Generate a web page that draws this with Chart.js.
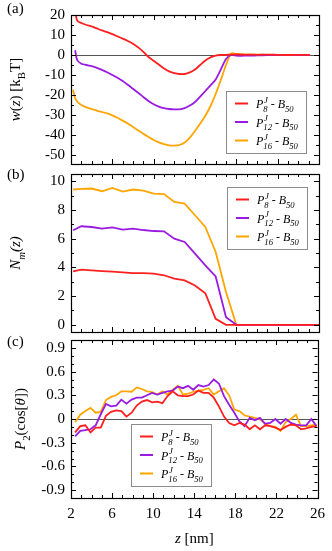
<!DOCTYPE html>
<html>
<head>
<meta charset="utf-8">
<script src="https://cdn.jsdelivr.net/npm/chart.js@4.4.0/dist/chart.umd.min.js"></script>
<style>
html, body { margin: 0; padding: 0; background: #fff; }
#wrap { position: relative; width: 332px; height: 551px; }
canvas { position: absolute; left: 0; top: 0; }
</style>
</head>
<body>
<div id="wrap">
  <canvas id="chartA" width="332" height="551"></canvas>
  <canvas id="chartB" width="332" height="551"></canvas>
  <canvas id="chartC" width="332" height="551"></canvas>
</div>
<script>
// chain lengths of the three systems (P^J_n - B_50)
const chains = ['8', '12', '16'];
const colors = ['#ff1f1f', '#9a1be0', '#ffa500'];

// x ticks shared by all panels
const zTicks = [2, 6, 10, 14, 18, 22, 26];

// (a) potential of mean force w(z) [kBT]
const zA = [2.2, 2.4, 2.6, 3, 3.5, 4, 4.5, 5, 5.5, 6, 6.5, 7, 7.5, 8, 8.5, 9, 9.5, 10, 10.5, 11, 11.5, 12, 12.5,
    13, 13.5, 14, 14.5, 15, 15.5, 16, 16.5, 17, 17.5, 18, 18.5, 19, 19.5, 20, 21, 22, 23, 24, 25.1];
const wP8 = [null, 22, 17.2, 16.0, 15.0, 14.3, 13.3, 12.3, 11.4, 10.4, 9.3, 8.2, 7.0, 5.6, 3.8, 1.6, -1.0, -2.9,
    -4.8, -6.7, -8.2, -9.1, -9.5, -9.5, -8.7, -7.3, -5.0, -2.8, -1.2, -0.3, 0.0, 0.1, 0.2, 0.3, 0.2, 0.1, 0.2, 0.1,
    0.2, 0.1, 0.0, 0.1, 0.0];
const wP12 = [null, 2.4, -2.5, -4.4, -5.0, -5.6, -6.4, -7.4, -8.6, -10.0, -11.4, -13.0, -14.9, -16.9, -18.9, -21.0,
    -23.0, -24.6, -25.8, -26.6, -27.0, -27.2, -27.2, -26.6, -25.3, -23.5, -20.8, -18.0, -15.2, -12.2, -7.2, -2.0,
    0.0, -0.3, -0.4, -0.3, -0.3, -0.2, -0.1, -0.1, 0.0, 0.0, 0.0];
const wP16 = [-17.4, -21.5, -23.3, -25.0, -26.2, -27.0, -27.8, -28.5, -29.2, -30.2, -31.4, -32.8, -34.3, -36.0,
    -37.7, -39.4, -41.0, -42.5, -43.7, -44.6, -45.2, -45.3, -45.0, -43.8, -41.3, -38.0, -34.3, -30.4, -25.5, -19.5,
    -12.5, -5.0, 0.8, 0.6, 0.4, 0.3, 0.2, 0.2, 0.1, 0.1, 0.0, 0.0, 0.0];
const wTicks = [-50, -40, -30, -20, -10, 0, 10, 20];

// (b) number of monomers N_m(z)
const zB = [2.2, 3, 4, 5, 6, 7, 8, 9, 10, 11, 12, 13, 14, 15, 16, 17, 18, 19, 20, 21, 22, 23, 24, 25, 26];
const nP8 = [3.72, 3.84, 3.79, 3.74, 3.70, 3.65, 3.60, 3.60, 3.56, 3.45, 3.21, 3.09, 2.74, 2.20, 0.42, 0, 0, 0,
    0, 0, 0, 0, 0, 0, 0];
const nP12 = [6.58, 6.86, 6.81, 6.70, 6.79, 6.63, 6.70, 6.60, 6.53, 6.51, 6.00, 5.77, 4.95, 4.14, 3.37, 0.53, 0,
    0, 0, 0, 0, 0, 0, 0, 0];
const nP16 = [9.42, 9.46, 9.49, 9.30, 9.53, 9.28, 9.42, 9.35, 9.14, 9.10, 8.56, 8.44, 7.63, 6.81, 5.07, 2.28, 0,
    0, 0, 0, 0, 0, 0, 0, 0];
const nTicks = [0, 2, 4, 6, 8, 10];

// (c) orientational order P2(cos[theta])
const zC = [2.4, 2.9, 3.4, 3.9, 4.4, 4.9, 5.4, 5.9, 6.4, 6.9, 7.4, 7.9, 8.4, 8.9, 9.4, 9.9, 10.4, 10.9, 11.4,
    11.9, 12.4, 12.9, 13.4, 13.9, 14.4, 14.9, 15.4, 15.9, 16.4, 16.9, 17.4, 17.9, 18.4, 18.9, 19.4, 19.9, 20.4,
    20.9, 21.4, 21.9, 22.4, 22.9, 23.4, 23.9, 24.4, 24.9, 25.4, 25.9];
const pP8 = [-0.17, -0.09, -0.08, -0.17, -0.11, -0.11, 0.04, 0.09, 0.11, 0.10, 0.03, 0.08, 0.17, 0.22, 0.24, 0.21,
    0.22, 0.20, 0.29, 0.35, 0.30, 0.29, 0.29, 0.31, 0.36, 0.33, 0.33, 0.27, 0.16, 0.03, -0.05, -0.08, -0.05, -0.07,
    -0.13, -0.08, -0.13, -0.08, -0.09, -0.11, -0.14, -0.10, -0.07, -0.08, -0.13, -0.12, -0.10, -0.09];
const pP12 = [-0.22, -0.15, -0.14, -0.13, -0.08, 0.06, 0.19, 0.16, 0.17, 0.245, 0.195, 0.245, 0.27, 0.27, 0.30,
    0.33, 0.31, 0.33, 0.35, 0.36, 0.41, 0.39, 0.42, 0.37, 0.43, 0.41, 0.43, 0.50, 0.45, 0.29, 0.18, 0.08, -0.03,
    -0.09, 0.015, -0.015, 0.015, -0.06, -0.05, 0.0, -0.06, 0.0, -0.05, -0.07, -0.08, -0.08, 0.0, -0.09];
const pP16 = [-0.04, 0.055, 0.10, 0.14, 0.08, 0.09, 0.24, 0.28, 0.30, 0.35, 0.35, 0.345, 0.40, 0.38, 0.35, 0.34,
    0.31, 0.35, 0.31, 0.37, 0.42, 0.31, 0.32, 0.345, 0.36, 0.37, 0.39, 0.31, 0.35, 0.39, 0.30, 0.12, 0.10, 0.045,
    0.03, 0.015, -0.005, -0.06, -0.09, -0.10, -0.15, -0.04, 0.0, 0.055, -0.09, -0.09, -0.08, -0.07];
const pTicks = [-0.9, -0.6, -0.3, 0, 0.3, 0.6, 0.9];

const SERIF = '"Liberation Serif", "DejaVu Serif", serif';

function fontOf(s, size) {
    return (s.it ? 'italic ' : '') + (size * (s.sc || 1)) + 'px ' + SERIF;
}

// draw text made of pieces (italic, sub/superscript), left or centred at x
function drawRich(ctx, segs, x, y, size, center) {
    ctx.textAlign = 'left';
    ctx.textBaseline = 'alphabetic';
    let w = 0;
    segs.forEach(s => { ctx.font = fontOf(s, size); if (!s.keep) w += ctx.measureText(s.t).width + (s.dx || 0) * size; });
    let cx = center ? x - w / 2 : x;
    segs.forEach(s => {
        ctx.font = fontOf(s, size);
        ctx.fillText(s.t, cx + (s.dx || 0) * size, y + (s.dy || 0) * size);
        if (!s.keep) cx += ctx.measureText(s.t).width + (s.dx || 0) * size;
    });
}

function legendLabel(n) {
    return [
        { t: 'P', it: 1 },
        { t: 'J', it: 1, sc: 0.72, dy: -0.42, dx: 0.06, keep: 1 },
        { t: n, it: 1, sc: 0.72, dy: 0.3 },
        { t: ' - ' },
        { t: 'B', it: 1 },
        { t: '50', it: 1, sc: 0.72, dy: 0.3 }
    ];
}

function minorTicks(min, max, step) {
    const out = [];
    for (let v = Math.ceil(min / step - 1e-9) * step; v <= max + 1e-9; v += step) out.push(Math.round(v * 1000) / 1000);
    return out;
}

const deco = {
    id: 'deco',
    beforeDatasetsDraw(chart, args, o) {
        const { ctx, chartArea: a, scales: { y } } = chart;
        if (!o.zero) return;
        const py = Math.round(y.getPixelForValue(0)) + 0.5;
        ctx.save();
        ctx.strokeStyle = '#555';
        ctx.lineWidth = 1;
        ctx.beginPath();
        ctx.moveTo(a.left, py);
        ctx.lineTo(a.right, py);
        ctx.stroke();
        ctx.restore();
    },
    afterDraw(chart, args, o) {
        const { ctx, chartArea: a, scales: { x, y } } = chart;
        ctx.save();
        ctx.strokeStyle = '#000';
        ctx.lineWidth = 1;
        ctx.beginPath();
        minorTicks(2, 26, 1).forEach(v => {
            const px = Math.round(x.getPixelForValue(v)) + 0.5;
            const len = zTicks.includes(v) ? 5 : 3;
            ctx.moveTo(px, a.bottom); ctx.lineTo(px, a.bottom - len);
            ctx.moveTo(px, a.top); ctx.lineTo(px, a.top + len);
        });
        minorTicks(y.min, y.max, o.yMinor).forEach(v => {
            const py = Math.round(y.getPixelForValue(v)) + 0.5;
            const len = o.yMajor.some(m => Math.abs(m - v) < 1e-6) ? 5 : 3;
            ctx.moveTo(a.left, py); ctx.lineTo(a.left + len, py);
            ctx.moveTo(a.right, py); ctx.lineTo(a.right - len, py);
        });
        ctx.stroke();
        ctx.lineWidth = 1.2;
        ctx.strokeRect(Math.round(a.left) + 0.5, Math.round(a.top) + 0.5, Math.round(a.right - a.left), Math.round(a.bottom - a.top));

        // legend box
        const L = o.legend;
        ctx.fillStyle = '#fff';
        ctx.fillRect(L.x, L.y, 80, 62);
        ctx.strokeStyle = '#8c8c8c';
        ctx.lineWidth = 1;
        ctx.strokeRect(L.x + 0.5, L.y + 0.5, 80, 62);
        chains.forEach((n, i) => {
            const ry = L.y + 12.5 + i * 18.5;
            ctx.strokeStyle = colors[i];
            ctx.lineWidth = 2;
            ctx.beginPath();
            ctx.moveTo(L.x + 9, ry); ctx.lineTo(L.x + 22, ry);
            ctx.stroke();
            ctx.fillStyle = '#000';
            drawRich(ctx, legendLabel(n), L.x + 30, ry + 4.5, 12, false);
        });

        // panel letter and axis titles
        ctx.fillStyle = '#000';
        ctx.font = '15px ' + SERIF;
        ctx.textAlign = 'left';
        ctx.textBaseline = 'alphabetic';
        ctx.fillText(o.letter, 7, o.letterY);
        ctx.save();
        ctx.translate(o.labelX, (a.top + a.bottom) / 2);
        ctx.rotate(-Math.PI / 2);
        drawRich(ctx, o.label, 0, 0, 15, true);
        ctx.restore();
        if (o.xTitle) drawRich(ctx, [{ t: 'z', it: 1 }, { t: ' [nm]' }], (a.left + a.right) / 2, 543, 15, true);
        ctx.restore();
    }
};

function panel(id, xs, series, yMin, yMax, yTicks, cfg) {
    return new Chart(document.getElementById(id), {
        type: 'line',
        data: {
            datasets: series.map((vals, i) => ({
                data: xs.map((x, k) => ({ x: x, y: vals[k] })),
                borderColor: colors[i],
                borderWidth: 1.8,
                pointRadius: 0,
                tension: cfg.tension || 0,
                fill: false
            }))
        },
        options: {
            responsive: false,
            animation: false,
            events: [],
            layout: { padding: { left: 0, right: 13, top: cfg.top, bottom: cfg.bottom } },
            plugins: {
                legend: { display: false },
                tooltip: { enabled: false },
                deco: cfg.deco
            },
            scales: {
                x: {
                    type: 'linear', min: 2, max: 26, display: !!cfg.showX,
                    grid: { display: false, drawTicks: false }, border: { display: false },
                    afterBuildTicks: s => { s.ticks = zTicks.map(v => ({ value: v })); },
                    afterFit: s => { if (cfg.showX) s.height = 53; },
                    ticks: { font: { family: SERIF, size: 15 }, color: '#000', padding: 7, maxRotation: 0, autoSkip: false }
                },
                y: {
                    type: 'linear', min: yMin, max: yMax,
                    grid: { display: false, drawTicks: false }, border: { display: false },
                    afterBuildTicks: s => { s.ticks = yTicks.map(v => ({ value: v })); },
                    afterFit: s => { s.width = 71; },
                    ticks: { font: { family: SERIF, size: 15 }, color: '#000', padding: 6, autoSkip: false, callback: cfg.fmt || (v => v) }
                }
            }
        },
        plugins: [deco]
    });
}

panel('chartA', zA, [wP8, wP12, wP16], -54.5, 20, wTicks, {
    top: 7, bottom: 387, tension: 0.25,
    deco: {
        zero: true, yMinor: 5, yMajor: wTicks, letter: '(a)', letterY: 13, labelX: 20,
        label: [{ t: 'w', it: 1 }, { t: '(', }, { t: 'z', it: 1 }, { t: ') [k' }, { t: 'B', sc: 0.72, dy: 0.3 }, { t: 'T]' }],
        legend: { x: 226, y: 91 }
    }
});

panel('chartB', zB, [nP8, nP12, nP16], -0.5, 10.5, nTicks, {
    top: 174, bottom: 219,
    deco: {
        zero: false, yMinor: 1, yMajor: nTicks, letter: '(b)', letterY: 179, labelX: 20,
        label: [{ t: 'N', it: 1 }, { t: 'm', it: 1, sc: 0.72, dy: 0.3 }, { t: '(z)', it: 1 }],
        legend: { x: 227, y: 187 }
    }
});

panel('chartC', zC, [pP8, pP12, pP16], -1, 1, pTicks, {
    top: 340, bottom: 0, showX: true,
    fmt: v => (v === 0 ? '0' : v.toFixed(1)),
    deco: {
        zero: true, yMinor: 0.1, yMajor: pTicks, letter: '(c)', letterY: 346, labelX: 25, xTitle: true,
        label: [{ t: 'P', it: 1 }, { t: '2', sc: 0.72, dy: 0.3 }, { t: '(cos[' }, { t: 'θ', it: 1 }, { t: '])' }],
        legend: { x: 131, y: 424 }
    }
});
</script>
</body>
</html>
